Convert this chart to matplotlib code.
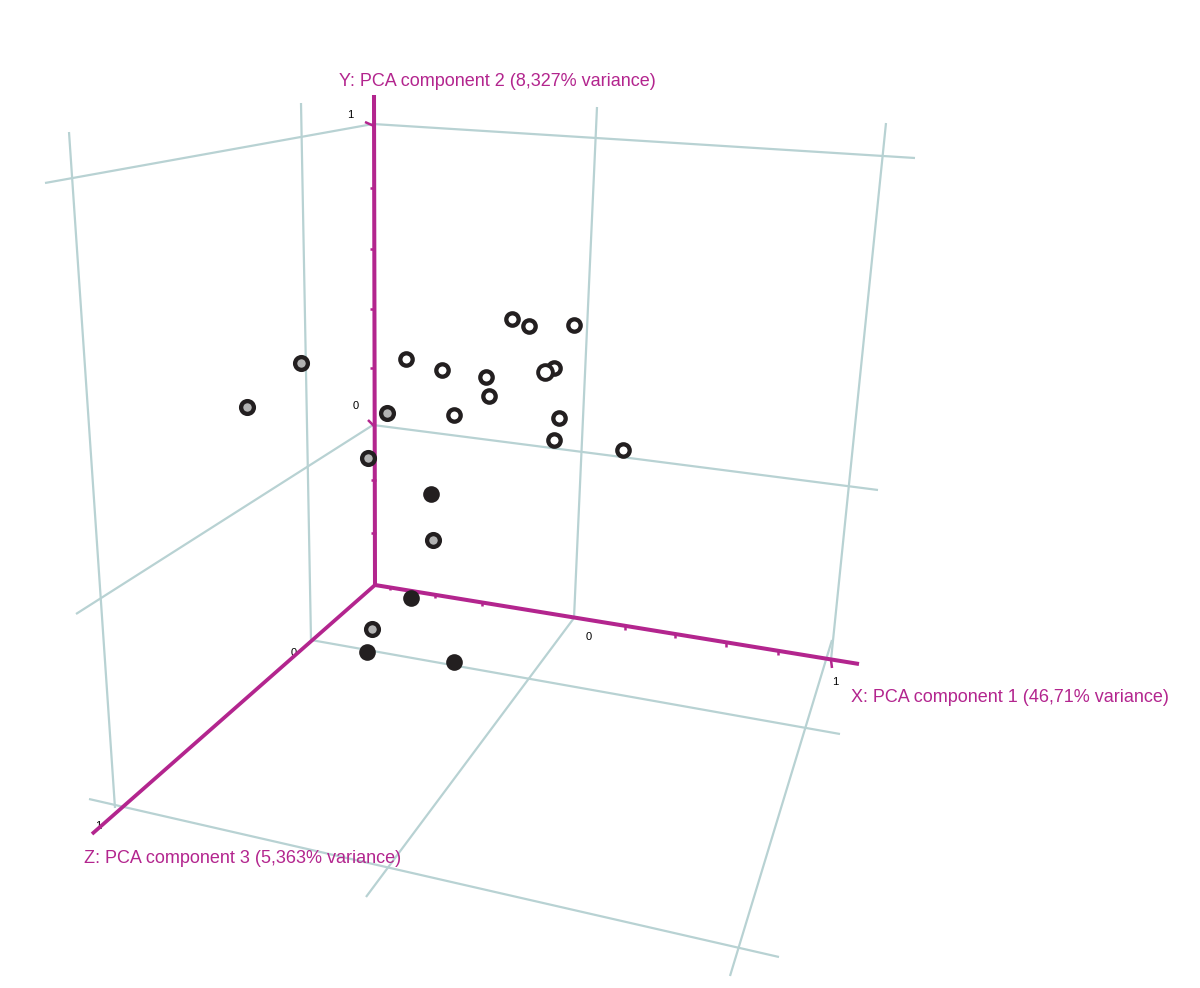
import matplotlib
matplotlib.use('Agg')
import matplotlib.pyplot as plt

plt.rcParams['font.family'] = ['Liberation Sans', 'DejaVu Sans']

width, height = 1200, 988
purple = '#b3258e'
grid_color = '#b8d2d3'
dark = '#231f20'

grid_lines = [
    ([45, 373, 915], [183, 124, 158]),
    ([69, 115], [132, 808]),
    ([301, 311], [103, 640]),
    ([597, 574], [107, 618]),
    ([886, 831], [123, 660]),
    ([832, 730], [640, 976]),
    ([76, 373, 878], [614, 425, 490]),
    ([311, 840], [640, 734]),
    ([574, 366], [618, 897]),
    ([89, 779], [799, 957]),
]

axis_x = ([375, 859], [585, 664])
axis_y = ([374, 375], [95, 585])
axis_z = ([375, 92], [585, 834])

tick_segments = [
    ([365, 374], [122, 126]),
    ([368, 374], [420, 426]),
    ([370, 375], [188, 188]),
    ([370, 375], [249, 249]),
    ([370, 375], [309, 309]),
    ([370, 375], [368, 368]),
    ([371, 376], [480, 480]),
    ([371, 376], [533, 533]),
    ([390, 390], [586, 590]),
    ([435, 435], [594, 598]),
    ([482, 482], [602, 606]),
    ([625, 625], [625, 630]),
    ([675, 675], [633, 638]),
    ([726, 726], [642, 647]),
    ([778, 778], [650, 655]),
    ([831, 832], [660, 668]),
]

tick_labels = ['1', '0', '0', '1', '0', '1']
tick_label_x = [350, 356, 589, 835, 294, 98]
tick_label_y = [115.5, 405.5, 636.5, 682, 653, 825.5]

open_x = [512, 529, 574, 406, 442, 486, 489, 454, 554, 559, 554, 623]
open_y = [319.5, 326.5, 325.5, 359.5, 370.5, 377.5, 396, 415, 368, 418, 440, 450]
big_open_x = [545]
big_open_y = [372]
grey_x = [301, 247, 387, 368, 433, 372]
grey_y = [363, 406.5, 413, 458, 539.5, 628.5]
black_x = [431, 411, 367, 454]
black_y = [494, 597.5, 652, 662]

fig = plt.figure(figsize=(width / 100, height / 100), dpi=100)
ax = fig.add_axes([0, 0, 1, 1])
ax.set_xlim(0, width)
ax.set_ylim(height, 0)
ax.axis('off')

for xs, ys in grid_lines:
    ax.plot(xs, ys, color=grid_color, lw=1.6, zorder=1, solid_capstyle='butt')

for xs, ys in tick_segments:
    ax.plot(xs, ys, color=purple, lw=1.8, zorder=2, solid_capstyle='butt')

ax.plot(*axis_x, color=purple, lw=2.9, zorder=3, solid_capstyle='butt')
ax.plot(*axis_y, color=purple, lw=2.9, zorder=3, solid_capstyle='butt')
ax.plot(*axis_z, color=purple, lw=2.7, zorder=3, solid_capstyle='butt')

for label, x, y in zip(tick_labels, tick_label_x, tick_label_y):
    ax.text(x, y, label, fontsize=8, color='black', ha='center', va='center', zorder=2)

ax.plot(open_x, open_y, 'o', ms=8.9, mfc='white', mec=dark, mew=3.1, ls='none', zorder=4)
ax.plot(grey_x, grey_y, 'o', ms=9.2, mfc='#b3b3b3', mec=dark, mew=3.1, ls='none', zorder=4)
ax.plot(black_x, black_y, 'o', ms=12, mfc=dark, mec=dark, mew=0, ls='none', zorder=4)
ax.plot(big_open_x, big_open_y, 'o', ms=10.6, mfc='white', mec=dark, mew=2.8, ls='none', zorder=5)

ax.text(339, 81, 'Y: PCA component 2 (8,327% variance)', color=purple, fontsize=12.93, va='center')
ax.text(851, 697, 'X: PCA component 1 (46,71% variance)', color=purple, fontsize=12.93, va='center')
ax.text(84, 858, 'Z: PCA component 3 (5,363% variance)', color=purple, fontsize=12.93, va='center')

fig.savefig('out.png', dpi=100)
